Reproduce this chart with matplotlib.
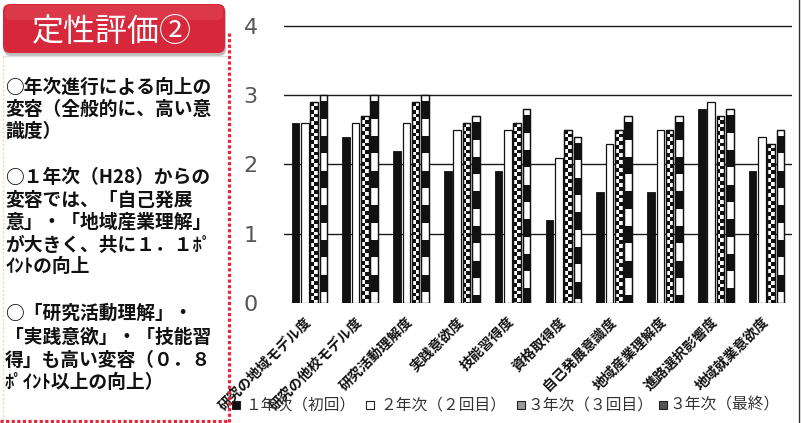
import matplotlib
matplotlib.use("Agg")
import matplotlib.pyplot as plt
import numpy as np
from matplotlib.patches import Rectangle, FancyBboxPatch
from matplotlib.collections import PatchCollection
from matplotlib.lines import Line2D
from matplotlib.transforms import IdentityTransform

# ---- data -------------------------------------------------------------
categories = ["研究の地域モデル度", "研究の他校モデル度", "研究活動理解度", "実践意欲度",
              "技能習得度", "資格取得度", "自己発展意識度", "地域産業理解度",
              "進路選択影響度", "地域就業意欲度"]
year1_first = [2.6, 2.4, 2.2, 1.9, 1.9, 1.2, 1.6, 1.6, 2.8, 1.9]
year2_second = [2.6, 2.6, 2.6, 2.5, 2.5, 2.1, 2.3, 2.5, 2.9, 2.4]
year3_third = [2.9, 2.7, 2.9, 2.6, 2.6, 2.5, 2.5, 2.5, 2.7, 2.3]
year3_final = [3.0, 3.0, 3.0, 2.7, 2.8, 2.4, 2.7, 2.7, 2.8, 2.5]
series_labels = ["１年次（初回）", "２年次（２回目）", "３年次（３回目）", "３年次（最終）"]
y_ticks = [0, 1, 2, 3, 4]

panel_title = "定性評価②"
panel_lines = [
    "○年次進行による向上の",
    "変容（全般的に、高い意",
    "識度）",
    "○１年次（H28）からの",
    "変容では、「自己発展",
    "意」・「地域産業理解」",
    "が大きく、共に１．１ﾎﾟ",
    "ｲﾝﾄの向上",
    "○「研究活動理解」・",
    "「実践意欲」・「技能習",
    "得」も高い変容（０．８",
    "ﾎﾟｲﾝﾄ以上の向上）",
]
panel_line_y = [87, 109, 131, 177, 200, 222, 245, 266, 313, 337, 360, 382]

# ---- figure -----------------------------------------------------------
W, H = 802, 423
fig = plt.figure(figsize=(W / 100, H / 100), dpi=100)
fig.patch.set_facecolor("white")
PIX = IdentityTransform()
JP = ["Noto Sans CJK JP", "DejaVu Sans"]


def fx(x):
    return x / W


def fy(y):
    return 1 - y / H


# ---- bar chart --------------------------------------------------------
ax = fig.add_axes([fx(284), fy(303), (792 - 284) / W, (303 - 12.1) / H])
ax.set_xlim(-0.5, len(categories) - 0.5)
ax.set_ylim(0, 4.2)
ax.set_facecolor("none")
for s in ax.spines.values():
    s.set_visible(False)

for v in y_ticks[1:]:
    ax.axhline(v, color="#1a1a1a", lw=1.0, zorder=1)
ax.axhline(0, color="#d4d4d4", lw=0.8, zorder=1)

ax.set_yticks(y_ticks)
ax.set_yticklabels([str(t) for t in y_ticks],
                   fontfamily=["Liberation Sans Narrow", "DejaVu Sans"],
                   fontsize=16, color="#555555")
ax.tick_params(axis="y", length=0, pad=19)

x = np.arange(len(categories))
ax.set_xticks(x)
ax.set_xticklabels(categories, rotation=45, ha="right", va="center",
                   rotation_mode="anchor", fontfamily=JP, fontsize=10,
                   fontweight="bold", color="#111111")
ax.tick_params(axis="x", length=0, pad=12)

bw, step = 0.148, 0.183
edge = "#111111"
b1 = ax.bar(x - 1.5 * step, year1_first, bw, color="#111111", edgecolor=edge, lw=0.6, zorder=3)
b2 = ax.bar(x - 0.5 * step, year2_second, bw, color="white", edgecolor=edge, lw=0.9, zorder=3)
b3 = ax.bar(x + 0.5 * step, year3_third, bw, color="white", edgecolor=edge, lw=0.9, zorder=3)
b4 = ax.bar(x + 1.5 * step, year3_final, bw, color="white", edgecolor=edge, lw=0.9, zorder=3)

# chequered fill for the third-round bars
cell_h = 0.055
for rect in b3:
    x0, w, h = rect.get_x(), rect.get_width(), rect.get_height()
    cells = []
    for j in range(int(np.ceil(h / cell_h))):
        for k in range(2):
            if (j + k) % 2 == 0:
                cells.append(Rectangle((x0 + k * w / 2, h - (j + 1) * cell_h), w / 2, cell_h))
    pc = PatchCollection(cells, facecolor="#111111", edgecolor="none", zorder=3.5)
    ax.add_collection(pc)
    pc.set_clip_path(rect)
    ax.add_patch(Rectangle((x0, 0), w, h, fill=False, edgecolor=edge, lw=0.9, zorder=4))

# banded fill for the final-survey bars
band, cap = 0.25, 0.09
for rect in b4:
    x0, w, h = rect.get_x(), rect.get_width(), rect.get_height()
    bands = []
    top = h - cap
    while top > 0:
        bands.append(Rectangle((x0, top - band), w, band))
        top -= 2 * band
    pc = PatchCollection(bands, facecolor="#111111", edgecolor="none", zorder=3.5)
    ax.add_collection(pc)
    pc.set_clip_path(rect)
    ax.add_patch(Rectangle((x0, 0), w, h, fill=False, edgecolor=edge, lw=0.9, zorder=4))

# ---- legend row ---------------------------------------------------------
legend_faces = ["#111111", "white", "#9a9a9a", "#555555"]
marker_cx = [236, 370, 521, 663]
text_x = [245, 380, 528, 670]
legend_y = 405
for face, mx, tx, lab in zip(legend_faces, marker_cx, text_x, series_labels):
    fig.add_artist(Rectangle((mx - 4, H - legend_y - 4), 8, 8, facecolor=face,
                             edgecolor="#222222", lw=0.8, transform=PIX))
    fig.text(fx(tx), fy(legend_y), lab, fontfamily=JP, fontsize=11.3,
             color="#333333", ha="left", va="center")

# right frame line
fig.add_artist(Line2D([799, 799], [0, H], color="#333333", lw=1.0, transform=PIX))

# ---- left panel ---------------------------------------------------------
# faint guide lines of the text box
fig.add_artist(Line2D([3, 3], [H - 56, 0], color="#f6d2b8", lw=1.0,
                      linestyle=(0, (1.5, 1.5)), transform=PIX))
fig.add_artist(Line2D([3, 226], [H - 56, H - 56], color="#e2e2e2", lw=1.0, transform=PIX))

# title box with shadow
fig.add_artist(FancyBboxPatch((4, H - 56), 222, 50,
                              boxstyle="round,pad=0,rounding_size=7",
                              facecolor="#bdbdbd", edgecolor="none", transform=PIX))
fig.add_artist(FancyBboxPatch((3, H - 53), 222, 49,
                              boxstyle="round,pad=0,rounding_size=7",
                              facecolor="#d6283a", edgecolor="none", transform=PIX))
fig.add_artist(FancyBboxPatch((5, H - 20), 218, 15,
                              boxstyle="round,pad=0,rounding_size=6",
                              facecolor="#e0495a", edgecolor="none", alpha=0.5,
                              transform=PIX))
fig.text(fx(112), fy(32), panel_title, fontfamily=JP, fontsize=23,
         color="white", ha="center", va="center")

# red dotted border
dot_style = dict(color="#e4283a", lw=2.3, linestyle=(0, (1.0, 0.75)),
                 dash_capstyle="butt", transform=PIX)
fig.add_artist(Line2D([228.5, 228.5], [H - 33, 0], **dot_style))
fig.add_artist(Line2D([0, 228.5], [H - 421, H - 421], **dot_style))

for line, yy in zip(panel_lines, panel_line_y):
    fig.text(fx(5), fy(yy), line, fontfamily=JP, fontsize=13.5,
             fontweight="bold", color="#111111", ha="left", va="center")

fig.savefig("out.png", dpi=100, facecolor="white")
